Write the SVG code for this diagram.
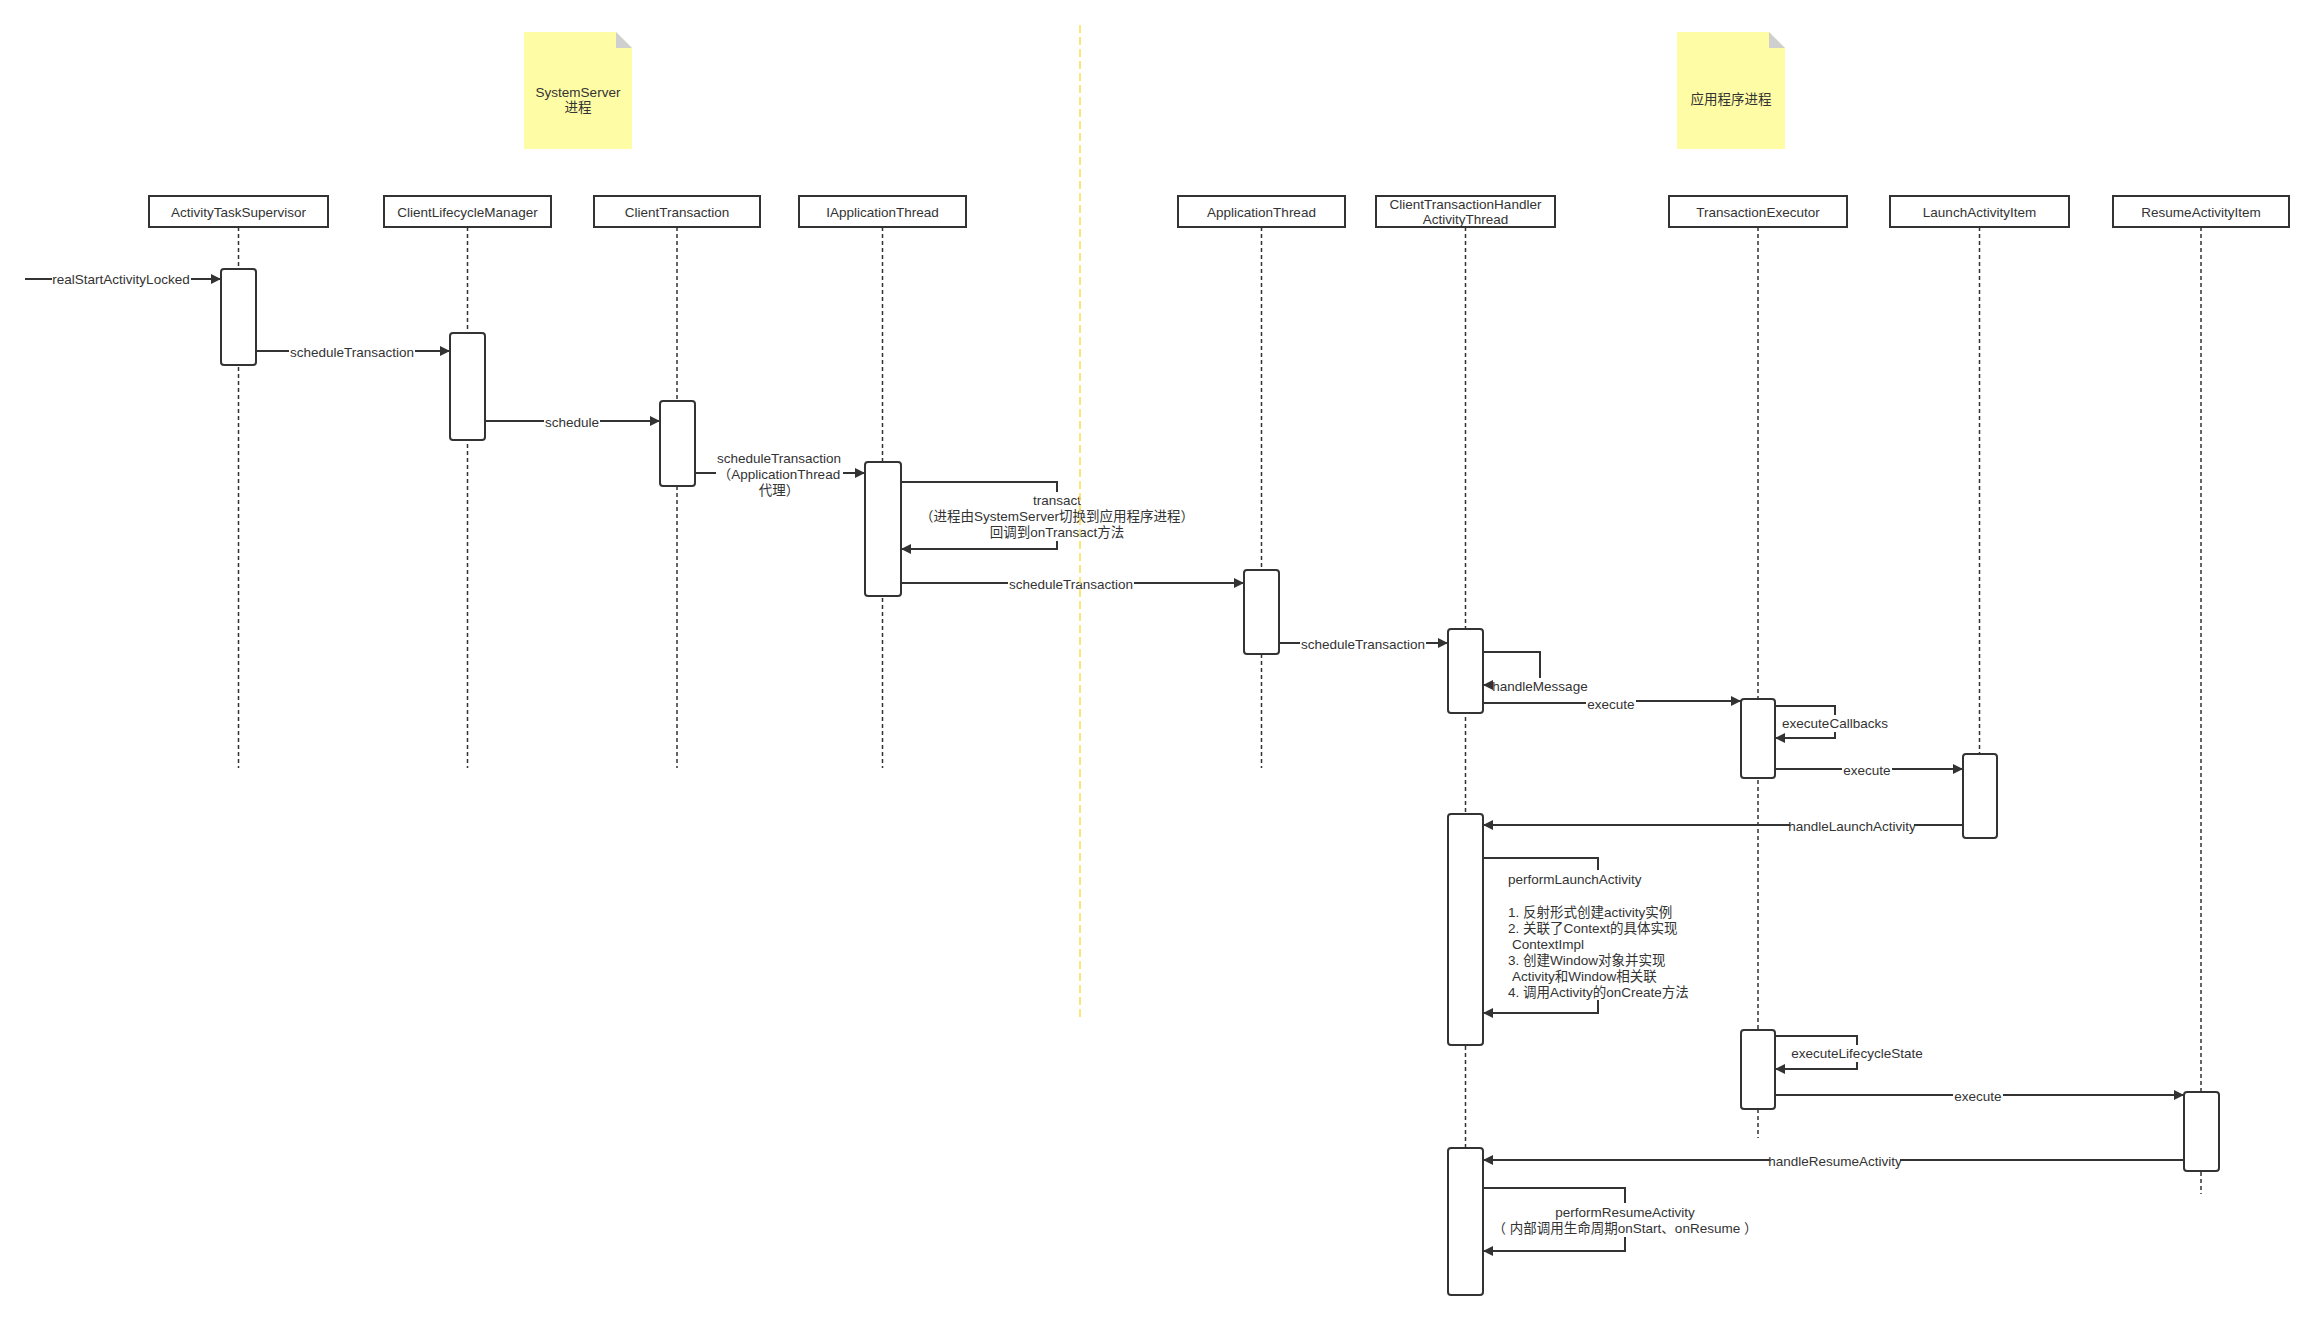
<svg xmlns="http://www.w3.org/2000/svg" width="2313" height="1320" viewBox="0 0 2313 1320">
  <style>
    text { font-family: "Liberation Sans", "Noto Sans CJK SC", sans-serif; font-size: 13.5px; fill: #333; dominant-baseline: central; }
    .c { text-anchor: middle; }
    .actor { fill: #fff; stroke: #333; stroke-width: 2; }
    .life { stroke: #333; stroke-width: 1.5; stroke-dasharray: 4 3; fill: none; }
    .act { fill: #fff; stroke: #333; stroke-width: 2; }
    .msg { fill: none; stroke: #333; stroke-width: 2; marker-end: url(#arrow); }
    .bg { fill: #fff; }
    .note { fill: #fffca6; }
    .fold { fill: #cfcfcf; }
  </style>
  <defs>
    <marker id="arrow" markerUnits="userSpaceOnUse" markerWidth="12" markerHeight="12" viewBox="0 0 12 12" refX="11" refY="6" orient="auto">
      <path d="M1,1 L11,6 L1,11 z" fill="#333"/>
    </marker>
  </defs>
  <rect width="2313" height="1320" fill="#fff"/>

  <!-- process notes -->
  <g id="note-systemserver">
    <path class="note" d="M524,32 H616 L632,48 V149 H524 Z"/>
    <path class="fold" d="M616,32 L632,48 H616 Z"/>
    <text class="c" x="578" y="92">SystemServer</text>
    <text class="c" x="578" y="107">进程</text>
  </g>
  <g id="note-app">
    <path class="note" d="M1677,32 H1769 L1785,48 V149 H1677 Z"/>
    <path class="fold" d="M1769,32 L1785,48 H1769 Z"/>
    <text class="c" x="1731" y="99">应用程序进程</text>
  </g>

  <!-- participants: header, lifeline, activations -->
  <g id="activity-task-supervisor">
    <line class="life" x1="238.5" y1="227" x2="238.5" y2="768"/>
    <rect class="actor" x="149" y="196" width="179" height="31"/>
    <text class="c" x="238.5" y="212">ActivityTaskSupervisor</text>
    <rect class="act" x="221" y="269" width="35" height="96" rx="3"/>
  </g>
  <g id="client-lifecycle-manager">
    <line class="life" x1="467.5" y1="227" x2="467.5" y2="768"/>
    <rect class="actor" x="384" y="196" width="167" height="31"/>
    <text class="c" x="467.5" y="212">ClientLifecycleManager</text>
    <rect class="act" x="450" y="333" width="35" height="107" rx="3"/>
  </g>
  <g id="client-transaction">
    <line class="life" x1="677" y1="227" x2="677" y2="768"/>
    <rect class="actor" x="594" y="196" width="166" height="31"/>
    <text class="c" x="677" y="212">ClientTransaction</text>
    <rect class="act" x="660" y="401" width="35" height="85" rx="3"/>
  </g>
  <g id="iapplication-thread">
    <line class="life" x1="882.5" y1="227" x2="882.5" y2="768"/>
    <rect class="actor" x="799" y="196" width="167" height="31"/>
    <text class="c" x="882.5" y="212">IApplicationThread</text>
    <rect class="act" x="865" y="462" width="36" height="134" rx="3"/>
  </g>
  <g id="application-thread">
    <line class="life" x1="1261.5" y1="227" x2="1261.5" y2="768"/>
    <rect class="actor" x="1178" y="196" width="167" height="31"/>
    <text class="c" x="1261.5" y="212">ApplicationThread</text>
    <rect class="act" x="1244" y="570" width="35" height="84" rx="3"/>
  </g>
  <g id="activity-thread">
    <line class="life" x1="1465.5" y1="227" x2="1465.5" y2="1295"/>
    <rect class="actor" x="1376" y="196" width="179" height="31"/>
    <text class="c" x="1465.5" y="204">ClientTransactionHandler</text>
    <text class="c" x="1465.5" y="219">ActivityThread</text>
    <rect class="act" x="1448" y="629" width="35" height="84" rx="3"/>
    <rect class="act" x="1448" y="814" width="35" height="231" rx="3"/>
    <rect class="act" x="1448" y="1148" width="35" height="147" rx="3"/>
  </g>
  <g id="transaction-executor">
    <line class="life" x1="1758" y1="227" x2="1758" y2="1138"/>
    <rect class="actor" x="1669" y="196" width="178" height="31"/>
    <text class="c" x="1758" y="212">TransactionExecutor</text>
    <rect class="act" x="1741" y="699" width="34" height="79" rx="3"/>
    <rect class="act" x="1741" y="1030" width="34" height="79" rx="3"/>
  </g>
  <g id="launch-activity-item">
    <line class="life" x1="1979.5" y1="227" x2="1979.5" y2="760"/>
    <rect class="actor" x="1890" y="196" width="179" height="31"/>
    <text class="c" x="1979.5" y="212">LaunchActivityItem</text>
    <rect class="act" x="1963" y="754" width="34" height="84" rx="3"/>
  </g>
  <g id="resume-activity-item">
    <line class="life" x1="2201" y1="227" x2="2201" y2="1194"/>
    <rect class="actor" x="2113" y="196" width="176" height="31"/>
    <text class="c" x="2201" y="212">ResumeActivityItem</text>
    <rect class="act" x="2184" y="1092" width="35" height="79" rx="3"/>
  </g>

  <!-- messages -->
  <g id="connectors">
    <path class="msg" d="M25,279 H221"/>
    <rect class="bg" x="52" y="271" width="139" height="17"/>
    <text class="c" x="121" y="279">realStartActivityLocked</text>

    <path class="msg" d="M256,351 H450"/>
    <rect class="bg" x="289" y="343" width="126" height="17"/>
    <text class="c" x="352" y="352">scheduleTransaction</text>

    <path class="msg" d="M485,421 H660"/>
    <rect class="bg" x="544" y="413" width="56" height="17"/>
    <text class="c" x="572" y="422">schedule</text>

    <path class="msg" d="M695,473 H865"/>
    <rect class="bg" x="716" y="450" width="127" height="49"/>
    <text class="c" x="779" y="458">scheduleTransaction</text>
    <text class="c" x="779" y="474">（ApplicationThread</text>
    <text class="c" x="779" y="490">代理）</text>

    <path class="msg" d="M901,482 H1057 V549 H901"/>
    <rect class="bg" x="933" y="492" width="249" height="49"/>
    <text class="c" x="1057" y="500">transact</text>
    <text class="c" x="1057" y="516">（进程由SystemServer切换到应用程序进程）</text>
    <text class="c" x="1057" y="532">回调到onTransact方法</text>

    <path class="msg" d="M901,583 H1244"/>
    <rect class="bg" x="1008" y="575" width="126" height="17"/>
    <text class="c" x="1071" y="584">scheduleTransaction</text>

    <path class="msg" d="M1279,643 H1448"/>
    <rect class="bg" x="1300" y="635" width="126" height="17"/>
    <text class="c" x="1363" y="644">scheduleTransaction</text>

    <path class="msg" d="M1483,652 H1540 V685 H1483"/>
    <rect class="bg" x="1493" y="678" width="95" height="17"/>
    <text class="c" x="1540" y="686">handleMessage</text>

    <path class="msg" d="M1483,703 H1611 V701 H1741"/>
    <rect class="bg" x="1586" y="695" width="50" height="17"/>
    <text class="c" x="1611" y="704">execute</text>

    <path class="msg" d="M1775,706 H1835 V738 H1775"/>
    <rect class="bg" x="1782" y="715" width="107" height="17"/>
    <text class="c" x="1835" y="723">executeCallbacks</text>

    <path class="msg" d="M1775,769 H1963"/>
    <rect class="bg" x="1842" y="761" width="50" height="17"/>
    <text class="c" x="1867" y="770">execute</text>

    <path class="msg" d="M1963,825 H1483"/>
    <rect class="bg" x="1790" y="817" width="124" height="17"/>
    <text class="c" x="1852" y="826">handleLaunchActivity</text>

    <path class="msg" d="M1483,858 H1598 V1013 H1483"/>
    <rect class="bg" x="1505" y="870" width="186" height="130"/>
    <text x="1508" y="879">performLaunchActivity</text>
    <text x="1508" y="912">1. 反射形式创建activity实例</text>
    <text x="1508" y="928">2. 关联了Context的具体实现</text>
    <text x="1512" y="944">ContextImpl</text>
    <text x="1508" y="960">3. 创建Window对象并实现</text>
    <text x="1512" y="976">Activity和Window相关联</text>
    <text x="1508" y="992">4. 调用Activity的onCreate方法</text>

    <path class="msg" d="M1775,1036 H1857 V1069 H1775"/>
    <rect class="bg" x="1790" y="1045" width="134" height="17"/>
    <text class="c" x="1857" y="1053">executeLifecycleState</text>

    <path class="msg" d="M1775,1095 H2184"/>
    <rect class="bg" x="1953" y="1087" width="50" height="17"/>
    <text class="c" x="1978" y="1096">execute</text>

    <path class="msg" d="M2184,1160 H1483"/>
    <rect class="bg" x="1770" y="1152" width="130" height="17"/>
    <text class="c" x="1835" y="1161">handleResumeActivity</text>

    <path class="msg" d="M1483,1188 H1625 V1251 H1483"/>
    <rect class="bg" x="1499" y="1203" width="252" height="34"/>
    <text class="c" x="1625" y="1212">performResumeActivity</text>
    <text class="c" x="1625" y="1228" xml:space="preserve">（ 内部调用生命周期onStart、onResume ）</text>
  </g>

  <!-- process boundary -->
  <line x1="1080" y1="25" x2="1080" y2="1018" stroke="#f9e04b" stroke-width="1.5" stroke-dasharray="8 4"/>
</svg>
